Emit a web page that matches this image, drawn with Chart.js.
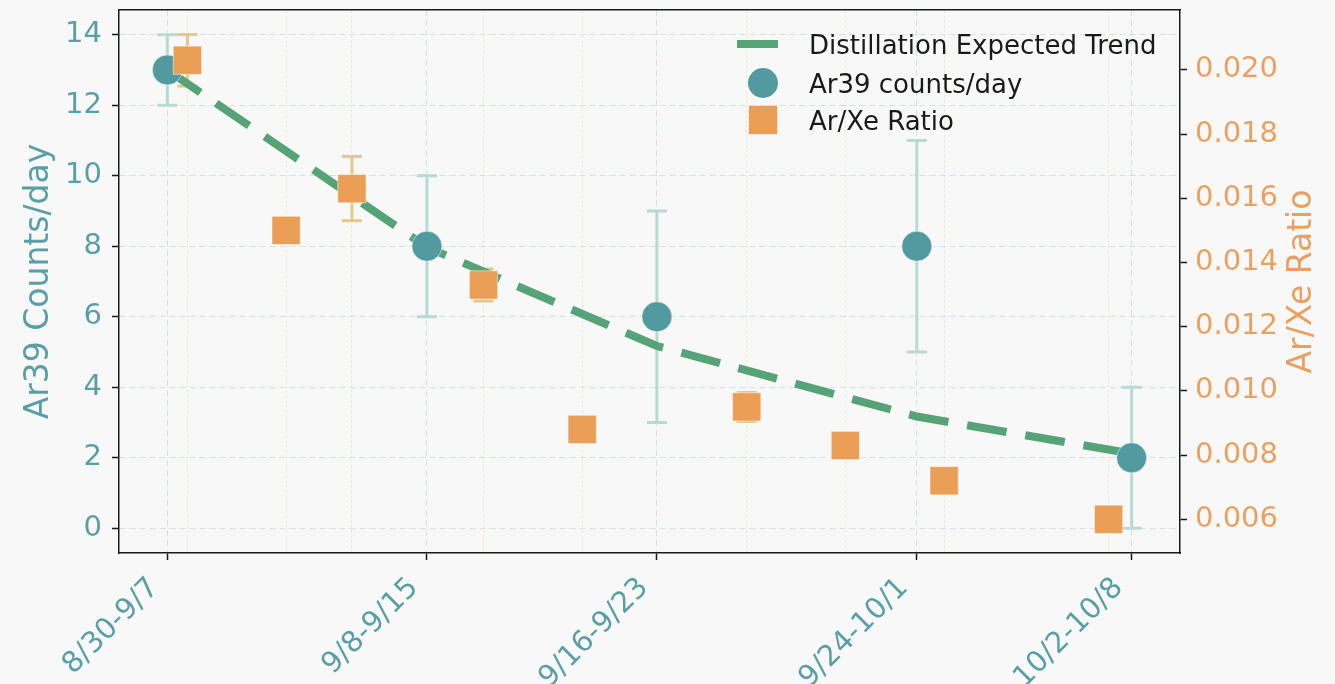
<!DOCTYPE html>
<html>
<head>
<meta charset="utf-8">
<title>Ar39 counts/day and Ar/Xe ratio</title>
<script src="https://cdn.jsdelivr.net/npm/chart.js@4.4.1/dist/chart.umd.min.js"></script>
<style>
  html, body { margin: 0; padding: 0; background: #f8f8f8; }
  #wrap { width: 1335px; height: 684px; }
</style>
</head>
<body>
<div id="wrap"><canvas id="arChart" width="1335" height="684"></canvas></div>
<script>
// x is in days, counted from the first Ar/Xe sample
const weekLabels = ['8/30-9/7', '9/8-9/15', '9/16-9/23', '9/24-10/1', '10/2-10/8'];
const ar39Day = [-0.61, 7.28, 14.27, 22.17, 28.70];
const ar39Counts = [13, 8, 6, 8, 2];
const ar39Err = [1, 2, 3, 3, 2];
const trendCounts = [13, 7.97, 5.17, 3.17, 2.12];

const arxeDay = [0, 3, 5, 9, 12, 17, 20, 23, 28];
const arxeRatio = [0.0203, 0.0150, 0.0163, 0.0133, 0.0088, 0.0095, 0.0083, 0.0072, 0.0060];
const arxeErr = [0.0008, 0.0003, 0.0010, 0.0005, 0.0003, 0.00045, 0.0003, 0.0003, 0.0003];

const countTicks = [0, 2, 4, 6, 8, 10, 12, 14];
const ratioTicks = [0.006, 0.008, 0.010, 0.012, 0.014, 0.016, 0.018, 0.020];

const leftTitle = 'Ar39 Counts/day';
const rightTitle = 'Ar/Xe Ratio';

const TEAL = '#529aa0';
const TEAL_TEXT = '#5a9ea6';
const ORANGE = '#eb9e56';
const ORANGE_TEXT = '#e9a062';
const GREEN = '#55a377';
const INK = '#1a1a1a';
const FONT = "'DejaVu Sans', sans-serif";

Chart.defaults.font.family = FONT;

// vertical error bars with caps, drawn under every dataset
const errorBars = {
  id: 'errorBars',
  beforeDatasetsDraw(chart) {
    const ctx = chart.ctx;
    chart.data.datasets.forEach((ds, i) => {
      if (!ds.errors) return;
      const meta = chart.getDatasetMeta(i);
      const yScale = chart.scales[ds.yAxisID];
      ctx.save();
      ctx.strokeStyle = ds.errorColor;
      ctx.lineWidth = 3;
      meta.data.forEach((pt, j) => {
        const v = ds.data[j].y, e = ds.errors[j];
        const top = yScale.getPixelForValue(v + e);
        const bot = yScale.getPixelForValue(v - e);
        ctx.beginPath();
        ctx.moveTo(pt.x, top); ctx.lineTo(pt.x, bot);
        ctx.moveTo(pt.x - 10, top); ctx.lineTo(pt.x + 10, top);
        ctx.moveTo(pt.x - 10, bot); ctx.lineTo(pt.x + 10, bot);
        ctx.stroke();
      });
      ctx.restore();
    });
  }
};

// axis titles (both read bottom to top) and the legend in the upper right
const decorations = {
  id: 'decorations',
  afterDraw(chart) {
    const ctx = chart.ctx;
    const area = chart.chartArea;
    const midY = (area.top + area.bottom) / 2;

    ctx.save();
    ctx.font = '33px ' + FONT;
    ctx.textAlign = 'center';
    ctx.textBaseline = 'alphabetic';
    [[48, leftTitle, TEAL_TEXT], [area.right + 131, rightTitle, ORANGE_TEXT]].forEach(([x, text, color]) => {
      ctx.save();
      ctx.translate(x, midY);
      ctx.rotate(-Math.PI / 2);
      ctx.fillStyle = color;
      ctx.fillText(text, 0, 0);
      ctx.restore();
    });
    ctx.restore();

    const markX = area.right - 417;
    const textX = area.right - 371;
    const rows = [44, 83, 120];
    ctx.save();
    ctx.font = '26px ' + FONT;
    ctx.textAlign = 'left';
    ctx.textBaseline = 'alphabetic';
    chart.data.datasets.forEach((ds, i) => {
      const y = rows[i];
      if (ds.showLine) {
        ctx.strokeStyle = ds.borderColor;
        ctx.lineWidth = ds.borderWidth;
        ctx.beginPath();
        ctx.moveTo(markX - 26, y);
        ctx.lineTo(markX + 15, y);
        ctx.stroke();
      } else if (ds.pointStyle === 'circle') {
        ctx.fillStyle = ds.backgroundColor;
        ctx.beginPath();
        ctx.arc(markX, y, ds.pointRadius, 0, Math.PI * 2);
        ctx.fill();
      } else {
        const s = ds.pointRadius * Math.SQRT1_2;
        ctx.fillStyle = ds.backgroundColor;
        ctx.fillRect(markX - s, y - s, 2 * s, 2 * s);
      }
      ctx.fillStyle = INK;
      ctx.fillText(ds.label, textX, y + 9.5);
    });
    ctx.restore();
  }
};

const pageBackground = {
  id: 'pageBackground',
  beforeDraw(chart) {
    const ctx = chart.ctx;
    ctx.save();
    ctx.fillStyle = '#f8f8f8';
    ctx.fillRect(0, 0, chart.width, chart.height);
    ctx.restore();
  }
};

const gridTeal = 'rgba(82, 154, 160, 0.22)';
const gridSand = 'rgba(200, 180, 90, 0.30)';

new Chart(document.getElementById('arChart'), {
  type: 'scatter',
  data: {
    datasets: [
      {
        label: 'Distillation Expected Trend',
        data: ar39Day.map((d, i) => ({ x: d, y: trendCounts[i] })),
        yAxisID: 'y',
        showLine: true,
        borderColor: GREEN,
        borderWidth: 8,
        borderDash: [40, 19],
        borderCapStyle: 'butt',
        pointRadius: 0,
        tension: 0,
        order: 3
      },
      {
        label: 'Ar39 counts/day',
        data: ar39Day.map((d, i) => ({ x: d, y: ar39Counts[i] })),
        yAxisID: 'y',
        pointStyle: 'circle',
        pointRadius: 15,
        backgroundColor: TEAL,
        borderColor: 'rgba(255, 255, 255, 0.5)',
        borderWidth: 1,
        errors: ar39Err,
        errorColor: '#b7dad1',
        order: 2
      },
      {
        label: 'Ar/Xe Ratio',
        data: arxeDay.map((d, i) => ({ x: d, y: arxeRatio[i] })),
        yAxisID: 'y1',
        pointStyle: 'rect',
        pointRadius: 20,
        backgroundColor: ORANGE,
        borderColor: 'rgba(255, 255, 255, 0.5)',
        borderWidth: 1,
        errors: arxeErr,
        errorColor: '#e2c98b',
        order: 1
      }
    ]
  },
  options: {
    responsive: false,
    animation: false,
    events: [],
    layout: { padding: { top: 10, left: 0, right: 0, bottom: 0 }, autoPadding: false },
    plugins: { legend: { display: false }, tooltip: { enabled: false } },
    scales: {
      x: {
        type: 'linear',
        position: 'bottom',
        min: -2.08,
        max: 30.17,
        afterBuildTicks: axis => { axis.ticks = ar39Day.map(v => ({ value: v })); },
        afterFit: axis => { axis.height = 131; axis.paddingLeft = 0; axis.paddingRight = 0; },
        ticks: {
          autoSkip: false,
          minRotation: 45,
          maxRotation: 45,
          padding: 11,
          labelOffset: -13,
          color: TEAL_TEXT,
          font: { size: 29 },
          callback: (v, i) => weekLabels[i]
        },
        grid: { color: gridTeal, lineWidth: 1, tickLength: 7, tickColor: INK, tickWidth: 1.5 },
        border: { color: INK, width: 1.5, dash: [6, 4] }
      },
      x2: {
        type: 'linear',
        axis: 'x',
        position: 'top',
        min: -2.08,
        max: 30.17,
        afterBuildTicks: axis => { axis.ticks = arxeDay.map(v => ({ value: v })); },
        afterFit: axis => { axis.height = 0; axis.paddingLeft = 0; axis.paddingRight = 0; },
        ticks: { display: false },
        grid: { color: gridSand, lineWidth: 1, drawTicks: false },
        border: { color: INK, width: 1.5, dash: [2, 3] }
      },
      y: {
        type: 'linear',
        position: 'left',
        min: -0.7,
        max: 14.7,
        afterBuildTicks: axis => { axis.ticks = countTicks.map(v => ({ value: v })); },
        afterFit: axis => { axis.width = 119; axis.paddingTop = 0; axis.paddingBottom = 0; },
        ticks: { color: TEAL_TEXT, font: { size: 29 }, padding: 10 },
        grid: { color: gridTeal, lineWidth: 1, tickLength: 7, tickColor: INK, tickWidth: 1.5 },
        border: { color: INK, width: 1.5, dash: [6, 4] }
      },
      y1: {
        type: 'linear',
        position: 'right',
        min: 0.00495,
        max: 0.021866,
        afterBuildTicks: axis => { axis.ticks = ratioTicks.map(v => ({ value: v })); },
        afterFit: axis => { axis.width = 155; axis.paddingTop = 0; axis.paddingBottom = 0; },
        ticks: { color: ORANGE_TEXT, font: { size: 29 }, padding: 8, callback: v => v.toFixed(3) },
        grid: { drawOnChartArea: false, tickLength: 7, tickColor: INK, tickWidth: 1.5 },
        border: { color: INK, width: 1.5 }
      }
    }
  },
  plugins: [pageBackground, errorBars, decorations]
});
</script>
</body>
</html>
